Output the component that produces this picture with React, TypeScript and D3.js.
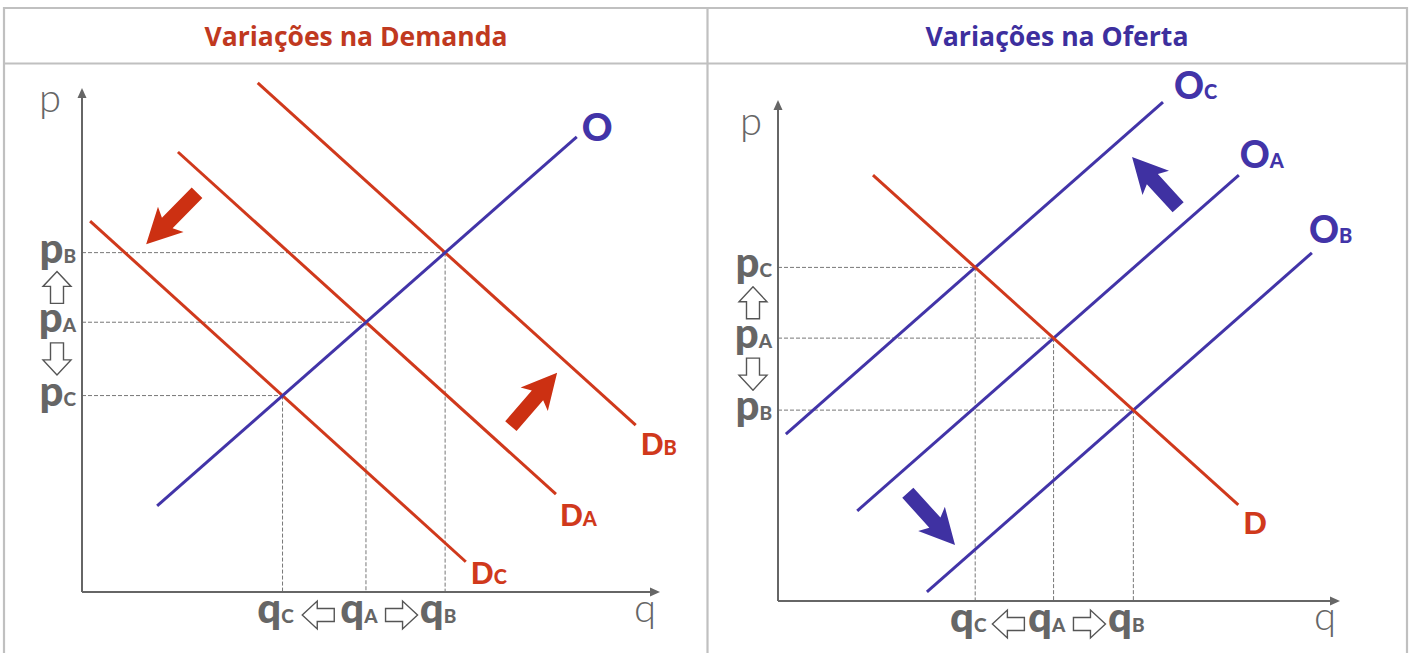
import React from 'react';
import * as d3 from 'd3';

type P = [number, number];

// ---------- Data (abstract q, p units, 0..10) ----------
// Left panel: "Variações na Demanda" (supply fixed, demand shifts)
const leftSupplyO: P[] = [[1.30, 1.71], [8.56, 9.03]];
const leftDemandB: P[] = [[3.04, 10.10], [9.58, 3.31]];
const leftDemandA: P[] = [[1.66, 8.73], [8.20, 1.94]];
const leftDemandC: P[] = [[0.14, 7.36], [6.64, 0.60]];
const leftShiftArrows: P[][] = [
  [[1.99, 7.92], [1.11, 6.90]],
  [[7.42, 3.29], [8.22, 4.35]],
];

// Right panel: "Variações na Oferta" (demand fixed, supply shifts)
const rightDemandD: P[] = [[1.69, 8.50], [8.19, 1.92]];
const rightSupplyC: P[] = [[0.14, 3.33], [6.85, 9.96]];
const rightSupplyA: P[] = [[1.41, 1.80], [8.20, 8.50]];
const rightSupplyB: P[] = [[2.65, 0.18], [9.50, 6.95]];
const rightShiftArrows: P[][] = [
  [[7.12, 7.86], [6.30, 8.86]],
  [[2.31, 2.16], [3.15, 1.12]],
];

const titles = ['Variações na Demanda', 'Variações na Oferta'];
const scenarios = ['C', 'A', 'B'];

// ---------- Styles ----------
const RED = '#d0391c';
const BLUE = '#4234a8';
const GRAY = '#666666';
const BORDER = '#c0c0c0';
const LABEL_FONT = 'Lato, "Open Sans", sans-serif';

function intersect(a: P[], b: P[]): P {
  const [[x1, y1], [x2, y2]] = a;
  const [[x3, y3], [x4, y4]] = b;
  const d = (x1 - x2) * (y3 - y4) - (y1 - y2) * (x3 - x4);
  const t = ((x1 - x3) * (y3 - y4) - (y1 - y3) * (x3 - x4)) / d;
  return [x1 + t * (x2 - x1), y1 + t * (y2 - y1)];
}

function arrowPath(
  x1: number, y1: number, x2: number, y2: number,
  shaftW: number, headW: number, headL: number, sweep: number
): string {
  const dx = x2 - x1, dy = y2 - y1;
  const len = Math.hypot(dx, dy);
  const ux = dx / len, uy = dy / len;
  const nx = -uy, ny = ux;
  const nkx = x2 - ux * headL, nky = y2 - uy * headL;
  const pts: P[] = [
    [x1 + nx * shaftW / 2, y1 + ny * shaftW / 2],
    [nkx + nx * shaftW / 2, nky + ny * shaftW / 2],
    [nkx - ux * sweep + nx * headW / 2, nky - uy * sweep + ny * headW / 2],
    [x2, y2],
    [nkx - ux * sweep - nx * headW / 2, nky - uy * sweep - ny * headW / 2],
    [nkx - nx * shaftW / 2, nky - ny * shaftW / 2],
    [x1 - nx * shaftW / 2, y1 - ny * shaftW / 2],
  ];
  return 'M' + pts.map((p) => p[0].toFixed(2) + ',' + p[1].toFixed(2)).join('L') + 'Z';
}

function HollowArrow({ cx, cy, dir }: { cx: number; cy: number; dir: 'up' | 'down' | 'left' | 'right' }) {
  const L = 32;
  const v: Record<string, P> = { up: [0, -1], down: [0, 1], left: [-1, 0], right: [1, 0] };
  const [ux, uy] = v[dir];
  const d = arrowPath(cx - ux * L / 2, cy - uy * L / 2, cx + ux * L / 2, cy + uy * L / 2, 13, 28, 15, 0);
  return <path d={d} fill="#fff" stroke="#555" strokeWidth={1.4} strokeLinejoin="miter" />;
}

interface CurveLabel { main: string; sub: string; dx: number; dy: number; size: number }

interface PanelProps {
  xr: [number, number];
  yr: [number, number];
  fixed: P[];
  fixedColor: string;
  fixedLabel: CurveLabel;
  shifting: P[][];
  shiftColor: string;
  shiftLabels: CurveLabel[];
  arrows: P[][];
  arrowColor: string;
  priceLabelX: number;
  qLabelY: number;
  pAxisLabel: P;
  qAxisLabel: P;
}

function Panel(props: PanelProps) {
  const { xr, yr, fixed, fixedColor, fixedLabel, shifting, shiftColor, shiftLabels, arrows, arrowColor } = props;
  const x = d3.scaleLinear().domain([0, 10]).range(xr);
  const y = d3.scaleLinear().domain([0, 10]).range(yr);
  const line = d3.line<P>().x((d) => x(d[0])).y((d) => y(d[1]));

  const eq = shifting.map((c) => intersect(fixed, c));
  const eqByLetter: Record<string, P> = {};
  shiftLabels.forEach((l, i) => { eqByLetter[l.sub] = eq[i]; });

  const ox = x(0), oy = y(0);
  const ax = x(10), ay = y(10);

  const renderLabel = (c: P[], l: CurveLabel, color: string, key: string) => {
    const end = c[1];
    return (
      <text key={key} x={x(end[0]) + l.dx} y={y(end[1]) + l.dy} fill={color}
        fontFamily={LABEL_FONT} fontWeight={900}>
        <tspan fontSize={l.size}>{l.main}</tspan>
        {l.sub ? <tspan fontSize={20}>{l.sub}</tspan> : null}
      </text>
    );
  };

  const pLetters = scenarios.map((s) => ({ s, py: y(eqByLetter[s][1]), qx: x(eqByLetter[s][0]) }));
  const A = pLetters.find((d) => d.s === 'A')!;
  const B = pLetters.find((d) => d.s === 'B')!;
  const C = pLetters.find((d) => d.s === 'C')!;
  const topP = B.py < C.py ? B : C;
  const botP = B.py < C.py ? C : B;

  return (
    <g>
      {eq.map((e, i) => (
        <g key={'g' + i} stroke="#777" strokeWidth={1} strokeDasharray="4,2" fill="none">
          <line x1={ox} x2={x(e[0])} y1={y(e[1])} y2={y(e[1])} />
          <line x1={x(e[0])} x2={x(e[0])} y1={y(e[1])} y2={oy} />
        </g>
      ))}
      <g stroke={GRAY} strokeWidth={2} fill="none">
        <line x1={ox} y1={oy} x2={ax - 6} y2={oy} />
        <line x1={ox} y1={oy} x2={ox} y2={ay + 6} />
      </g>
      <path d={`M${ax},${oy}L${ax - 10},${oy - 4.5}L${ax - 10},${oy + 4.5}Z`} fill={GRAY} />
      <path d={`M${ox},${ay}L${ox - 4.5},${ay + 10}L${ox + 4.5},${ay + 10}Z`} fill={GRAY} />
      <text x={props.pAxisLabel[0]} y={props.pAxisLabel[1]} fontFamily={LABEL_FONT} fontWeight={300}
        fontSize={40} fill={GRAY} textAnchor="middle">p</text>
      <text x={props.qAxisLabel[0]} y={props.qAxisLabel[1]} fontFamily={LABEL_FONT} fontWeight={300}
        fontSize={40} fill={GRAY} textAnchor="middle">q</text>

      {shifting.map((c, i) => (
        <path key={'s' + i} d={line(c) || ''} stroke={shiftColor} strokeWidth={3} fill="none" />
      ))}
      <path d={line(fixed) || ''} stroke={fixedColor} strokeWidth={3} fill="none" />
      {shifting.map((c, i) => renderLabel(c, shiftLabels[i], shiftColor, 'l' + i))}
      {renderLabel(fixed, fixedLabel, fixedColor, 'lf')}

      {arrows.map((a, i) => (
        <path key={'a' + i} d={arrowPath(x(a[0][0]), y(a[0][1]), x(a[1][0]), y(a[1][1]), 15, 36, 30, 5)}
          fill={arrowColor} />
      ))}

      {pLetters.map((d) => (
        <text key={'p' + d.s} x={props.priceLabelX} y={d.py + 10} textAnchor="end" fill={GRAY}
          fontFamily={LABEL_FONT} fontWeight={900}>
          <tspan fontSize={42}>p</tspan><tspan fontSize={19}>{d.s}</tspan>
        </text>
      ))}
      <HollowArrow cx={props.priceLabelX - 19} cy={(topP.py + A.py) / 2} dir="up" />
      <HollowArrow cx={props.priceLabelX - 19} cy={(botP.py + A.py) / 2} dir="down" />

      {pLetters.map((d) => (
        <text key={'q' + d.s} x={d.qx - 7} y={props.qLabelY} textAnchor="middle" fill={GRAY}
          fontFamily={LABEL_FONT} fontWeight={900}>
          <tspan fontSize={42}>q</tspan><tspan fontSize={19}>{d.s}</tspan>
        </text>
      ))}
      <HollowArrow cx={(C.qx + A.qx) / 2 - 6} cy={props.qLabelY - 8} dir="left" />
      <HollowArrow cx={(A.qx + B.qx) / 2 - 4} cy={props.qLabelY - 8} dir="right" />
    </g>
  );
}

export default function App() {
  return (
    <svg width={1413} height={653} style={{ position: 'absolute', left: 0, top: 0, background: '#fff' }}>
      <rect x={0} y={0} width={1413} height={653} fill="#fff" />
      <g stroke={BORDER} strokeWidth={2.2} fill="none">
        <line x1={4} y1={8} x2={1407} y2={8} />
        <line x1={4} y1={63.5} x2={1407} y2={63.5} />
        <line x1={4} y1={7} x2={4} y2={653} />
        <line x1={707.5} y1={7} x2={707.5} y2={653} />
        <line x1={1407} y1={7} x2={1407} y2={653} />
      </g>
      <text x={356} y={46} textAnchor="middle" fill="#c0391f" fontFamily='"Open Sans", sans-serif'
        fontWeight={700} fontSize={26} textLength={303} lengthAdjust="spacingAndGlyphs">{titles[0]}</text>
      <text x={1057} y={46} textAnchor="middle" fill="#3d2f9e" fontFamily='"Open Sans", sans-serif'
        fontWeight={700} fontSize={26} textLength={263} lengthAdjust="spacingAndGlyphs">{titles[1]}</text>

      <Panel
        xr={[82, 660]} yr={[592, 88]}
        fixed={leftSupplyO} fixedColor={BLUE}
        fixedLabel={{ main: 'O', sub: '', dx: 5, dy: 4, size: 38 }}
        shifting={[leftDemandB, leftDemandA, leftDemandC]} shiftColor={RED}
        shiftLabels={[
          { main: 'D', sub: 'B', dx: 5, dy: 30, size: 30 },
          { main: 'D', sub: 'A', dx: 4, dy: 32, size: 30 },
          { main: 'D', sub: 'C', dx: 5, dy: 22, size: 30 },
        ]}
        arrows={leftShiftArrows} arrowColor="#cc3012"
        priceLabelX={76} qLabelY={623}
        pAxisLabel={[50, 112]} qAxisLabel={[645, 622]}
      />
      <Panel
        xr={[778, 1340]} yr={[601, 100]}
        fixed={rightDemandD} fixedColor={RED}
        fixedLabel={{ main: 'D', sub: '', dx: 5, dy: 29, size: 31 }}
        shifting={[rightSupplyC, rightSupplyA, rightSupplyB]} shiftColor={BLUE}
        shiftLabels={[
          { main: 'O', sub: 'C', dx: 11, dy: -3, size: 37 },
          { main: 'O', sub: 'A', dx: 1, dy: -7, size: 37 },
          { main: 'O', sub: 'B', dx: -3, dy: -10, size: 37 },
        ]}
        arrows={rightShiftArrows} arrowColor="#3f31a2"
        priceLabelX={772} qLabelY={632}
        pAxisLabel={[751, 135]} qAxisLabel={[1325, 630]}
      />
    </svg>
  );
}
